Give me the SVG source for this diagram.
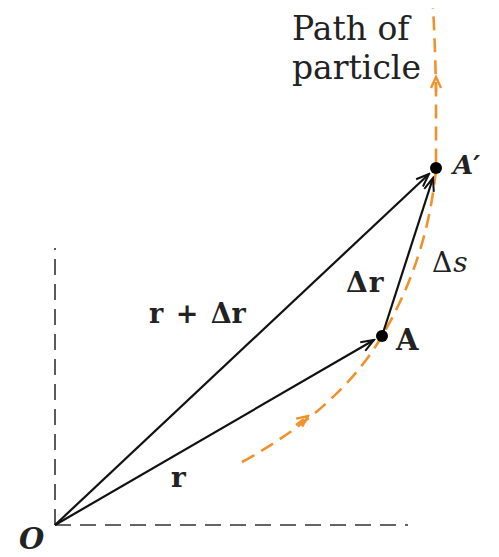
<svg xmlns="http://www.w3.org/2000/svg" width="499" height="557" viewBox="0 0 499 557">
<defs>
<style>
.axis{stroke:#333;stroke-width:1.6;fill:none;stroke-dasharray:16,9}
.vec{stroke:#111;stroke-width:2.2;fill:none}
.path{stroke:#f0922b;stroke-width:2.6;fill:none;stroke-dasharray:14,8}
.t{font-family:"DejaVu Serif",serif;fill:#222}
.b{font-weight:bold}
.i{font-style:italic}
</style>
<marker id="ah" markerWidth="16" markerHeight="12" refX="14" refY="6" orient="auto" markerUnits="userSpaceOnUse">
<path d="M1,1 L14,6 L1,11" fill="none" stroke="#111" stroke-width="2"/>
</marker>
<marker id="oh" markerWidth="14" markerHeight="12" refX="7" refY="6" orient="auto" markerUnits="userSpaceOnUse">
<path d="M1,1 L12,6 L1,11" fill="none" stroke="#f0922b" stroke-width="2.4"/>
</marker>
</defs>
<g id="axes">
<line class="axis" x1="55" y1="525" x2="55" y2="248"/>
<line class="axis" x1="55" y1="525" x2="408" y2="525"/>
</g>
<g id="connectors">
<path class="path" d="M242,462 Q340,408 382,336 Q428,258 436,168 L436,90 Q435,40 433,8"/>
<path d="M296,425 L304,419" fill="none" stroke="#f0922b" stroke-width="2.4" marker-end="url(#oh)"/>
<path d="M436,92 L436,82" fill="none" stroke="#f0922b" stroke-width="2.4" marker-end="url(#oh)"/>
<line class="vec" x1="55" y1="525" x2="374" y2="340" marker-end="url(#ah)"/>
<line class="vec" x1="55" y1="525" x2="429" y2="174" marker-end="url(#ah)"/>
<line class="vec" x1="382" y1="336" x2="433" y2="178" marker-end="url(#ah)"/>
</g>
<g id="A"><circle cx="382" cy="336" r="6" fill="#000"/><text class="t b" x="396" y="350" style="font-size:29px">A</text></g>
<g id="Aprime"><circle cx="436" cy="168" r="6" fill="#000"/><text class="t b i" x="453" y="174" style="font-size:26px">A′</text></g>
<g id="O"><text class="t b i" x="19" y="549" style="font-size:29px">O</text></g>
<g id="label-path"><text class="t" x="292" y="40" style="font-size:33px">Path of</text><text class="t" x="292" y="79" style="font-size:33px">particle</text></g>
<g id="label-r"><text class="t b" x="171" y="487" style="font-size:28px">r</text></g>
<g id="label-rdr"><text class="t b" x="149" y="323" style="font-size:27px;word-spacing:3px">r + Δr</text></g>
<g id="label-dr"><text class="t b" x="346" y="292" style="font-size:28px;letter-spacing:1px">Δr</text></g>
<g id="label-ds"><text class="t" x="432" y="272" style="font-size:28px;letter-spacing:1px">Δ<tspan font-style="italic">s</tspan></text></g>
</svg>
